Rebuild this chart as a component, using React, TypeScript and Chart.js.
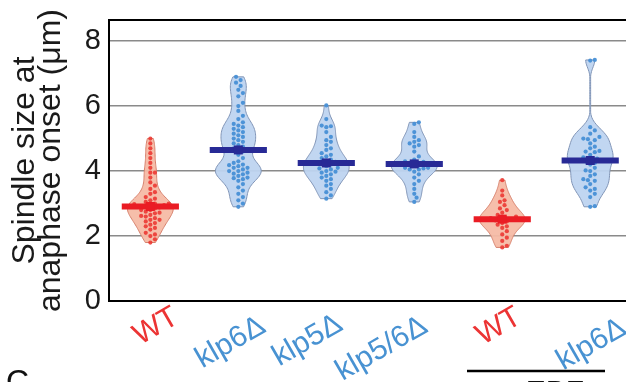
import React, { useEffect, useRef } from 'react';
import { Chart, registerables } from 'chart.js';

Chart.register(...registerables);

// Strain labels along the x axis (last two are the EBF-treated pair)
const groupLabels = ['WT', 'klp6Δ', 'klp5Δ', 'klp5/6Δ', 'WT', 'klp6Δ'];
const groupIsWT = [true, false, false, false, true, false];
const yTickValues = [0, 2, 4, 6, 8];

// Spindle length at anaphase onset (µm), one value per cell
const wtValues = [
  5.0, 4.85, 4.7, 4.55, 4.4, 4.25, 4.1, 3.95, 3.95, 3.8, 3.65, 3.55, 3.45, 3.35, 3.3, 3.2, 3.15,
  3.1, 3.05, 3.0, 3.0, 2.98, 2.95, 2.95, 2.92, 2.9, 2.88, 2.85, 2.8, 2.8, 2.75, 2.72, 2.7, 2.65,
  2.62, 2.6, 2.55, 2.5, 2.5, 2.45, 2.4, 2.35, 2.3, 2.25, 2.2, 2.1, 2.05, 2.0, 1.9, 1.8,
];
const klp6Values = [
  6.9, 6.8, 6.72, 6.62, 6.5, 6.4, 6.3, 6.1, 6.0, 5.85, 5.7, 5.6, 5.5, 5.45, 5.4, 5.35, 5.3, 5.25,
  5.2, 5.15, 5.1, 5.05, 5.0, 4.95, 4.9, 4.85, 4.8, 4.75, 4.7, 4.65, 4.6, 4.5, 4.4, 4.3, 4.25, 4.2,
  4.18, 4.15, 4.1, 4.1, 4.05, 4.0, 4.0, 3.95, 3.92, 3.9, 3.85, 3.8, 3.78, 3.75, 3.7, 3.6, 3.5, 3.4,
  3.3, 3.2, 3.1, 3.0, 2.9,
];
const klp5Values = [
  6.02, 5.6, 5.4, 5.38, 5.35, 5.2, 5.05, 4.95, 4.9, 4.8, 4.7, 4.65, 4.55, 4.5, 4.45, 4.4, 4.35,
  4.3, 4.28, 4.25, 4.2, 4.15, 4.1, 4.08, 4.05, 4.0, 3.98, 3.95, 3.9, 3.85, 3.8, 3.75, 3.7, 3.6,
  3.55, 3.45, 3.35, 3.25, 3.15,
];
const klp56Values = [
  5.5, 5.45, 5.2, 5.05, 4.95, 4.9, 4.85, 4.8, 4.75, 4.6, 4.45, 4.35, 4.3, 4.28, 4.25, 4.22, 4.2,
  4.1, 4.1, 4.08, 4.05, 4.05, 3.98, 3.9, 3.8, 3.7, 3.6, 3.45, 3.3, 3.18, 3.05,
];
const wtEbfValues = [
  3.72, 3.4, 3.25, 3.1, 3.05, 2.95, 2.85, 2.8, 2.72, 2.65, 2.6, 2.58, 2.55, 2.52, 2.5, 2.48, 2.45,
  2.4, 2.35, 2.3, 2.25, 2.15, 2.05, 1.95, 1.85, 1.7, 1.65,
];
const klp6EbfValues = [
  7.42, 7.4, 5.35, 5.25, 5.15, 5.05, 5.0, 4.98, 4.95, 4.85, 4.75, 4.7, 4.62, 4.6, 4.58, 4.5, 4.42,
  4.38, 4.35, 4.3, 4.25, 4.2, 4.1, 4.02, 4.0, 3.9, 3.85, 3.75, 3.72, 3.7, 3.6, 3.5, 3.45, 3.4, 3.3,
  3.2, 2.92, 2.9,
];

const groups = [wtValues, klp6Values, klp5Values, klp56Values, wtEbfValues, klp6EbfValues];

const RED = { dot: 'rgba(236,58,52,0.9)', fill: 'rgba(246,186,165,0.95)', edge: 'rgb(214,128,108)', bar: 'rgb(234,28,36)', label: 'rgb(236,52,52)' };
const BLUE = { dot: 'rgba(72,144,214,0.95)', fill: 'rgba(190,212,240,0.95)', edge: 'rgb(128,148,182)', bar: 'rgb(40,42,150)', label: 'rgb(72,146,210)' };

const X_MIN = -0.47;
const X_MAX = 5.6;
const Y_MAX = 8.65;
const PX_PER_X = 88;
const PX_PER_Y = 32.5;
const VIOLIN_HALF = 0.26;
const BAR_HALF = 0.325;
const FONT = '"Liberation Sans", Arial, Helvetica, sans-serif';

// Hand-set placement of the slanted strain names (right end of each baseline,
// measured from the tick and from the x axis line)
const LABEL_ANGLE = (-30 * Math.PI) / 180;
const LABEL_DX = [30, 29, 18, 15, 21, 38];
const LABEL_DY = [21, 30, 28, 30, 21, 32];

function median(values: number[]): number {
  const s = [...values].sort((a, b) => a - b);
  const m = Math.floor(s.length / 2);
  return s.length % 2 ? s[m] : (s[m - 1] + s[m]) / 2;
}

// Beeswarm layout: each dot goes to the free horizontal slot nearest the centre line
function swarmOffsets(values: number[]): number[] {
  const gap = 4.4;
  const step = 2.3;
  const order = values.map((_, i) => i).sort((a, b) => values[a] - values[b]);
  const placed: { x: number; y: number }[] = [];
  const out = new Array(values.length).fill(0);
  for (const i of order) {
    const y = values[i] * PX_PER_Y;
    for (let k = 0; k < 60; k++) {
      const cand = k === 0 ? 0 : (k % 2 === 1 ? 1 : -1) * Math.ceil(k / 2) * step;
      if (placed.every((p) => (p.x - cand) ** 2 + (p.y - y) ** 2 >= gap * gap)) {
        out[i] = cand / PX_PER_X;
        placed.push({ x: cand, y });
        break;
      }
    }
  }
  return out;
}

// Gaussian kernel density, truncated at the data range, normalised to 1 at its peak
function violinProfile(values: number[], bw = 0.22, n = 90) {
  const lo = Math.min(...values);
  const hi = Math.max(...values);
  const pts: { v: number; w: number }[] = [];
  for (let i = 0; i < n; i++) {
    const v = lo + ((hi - lo) * i) / (n - 1);
    let d = 0;
    for (const x of values) d += Math.exp(-0.5 * ((v - x) / bw) ** 2);
    pts.push({ v, w: d });
  }
  const max = Math.max(...pts.map((p) => p.w));
  return pts.map((p) => ({ v: p.v, w: Math.max(p.w / max, 0.018) }));
}

const profiles = groups.map((g) => violinProfile(g));
const medians = groups.map(median);

const violinPlugin = {
  id: 'violins',
  beforeDatasetsDraw(chart: any) {
    const { ctx, scales } = chart;
    const xs = scales.x;
    const ys = scales.y;
    profiles.forEach((prof, g) => {
      const pal = groupIsWT[g] ? RED : BLUE;
      ctx.save();
      ctx.beginPath();
      prof.forEach((p, i) => {
        const px = xs.getPixelForValue(g + p.w * VIOLIN_HALF);
        const py = ys.getPixelForValue(p.v);
        if (i === 0) ctx.moveTo(px, py);
        else ctx.lineTo(px, py);
      });
      for (let i = prof.length - 1; i >= 0; i--) {
        const p = prof[i];
        ctx.lineTo(xs.getPixelForValue(g - p.w * VIOLIN_HALF), ys.getPixelForValue(p.v));
      }
      ctx.closePath();
      ctx.fillStyle = pal.fill;
      ctx.fill();
      ctx.lineWidth = 1;
      ctx.strokeStyle = pal.edge;
      ctx.stroke();
      ctx.restore();
    });
  },
  afterDatasetsDraw(chart: any) {
    const { ctx, scales } = chart;
    const xs = scales.x;
    const ys = scales.y;
    medians.forEach((m, g) => {
      const pal = groupIsWT[g] ? RED : BLUE;
      const py = ys.getPixelForValue(m);
      const cx = xs.getPixelForValue(g);
      ctx.save();
      ctx.strokeStyle = pal.bar;
      ctx.lineWidth = 6;
      ctx.beginPath();
      ctx.moveTo(xs.getPixelForValue(g - BAR_HALF), py);
      ctx.lineTo(xs.getPixelForValue(g + BAR_HALF), py);
      ctx.stroke();
      ctx.fillStyle = pal.bar;
      ctx.fillRect(cx - 4.5, py - 4.5, 9, 9);
      ctx.restore();
    });
  },
  afterDraw(chart: any) {
    const { ctx, chartArea, scales } = chart;
    const xs = scales.x;
    ctx.save();
    // closing line along the top of the plot frame
    ctx.strokeStyle = '#000';
    ctx.lineWidth = 2;
    ctx.beginPath();
    ctx.moveTo(chartArea.left - 1, chartArea.top);
    ctx.lineTo(chartArea.right, chartArea.top);
    ctx.stroke();

    // slanted strain names under each violin
    ctx.font = `30px ${FONT}`;
    ctx.textAlign = 'right';
    ctx.textBaseline = 'alphabetic';
    groupLabels.forEach((lab, i) => {
      ctx.save();
      ctx.translate(xs.getPixelForValue(i) + LABEL_DX[i], chartArea.bottom + LABEL_DY[i]);
      ctx.rotate(LABEL_ANGLE);
      ctx.fillStyle = groupIsWT[i] ? RED.label : BLUE.label;
      ctx.fillText(lab, 0, 0);
      ctx.restore();
    });

    // bracket under the EBF-treated strains
    ctx.strokeStyle = '#000';
    ctx.lineWidth = 2.5;
    ctx.beginPath();
    ctx.moveTo(467, 371);
    ctx.lineTo(605, 371);
    ctx.stroke();
    ctx.fillStyle = '#111';
    ctx.font = `30px ${FONT}`;
    ctx.textAlign = 'center';
    ctx.fillText('EBF', 555, 401);
    ctx.font = `32px ${FONT}`;
    ctx.textAlign = 'left';
    ctx.fillText('C', 6, 392);
    ctx.restore();
  },
};

export default function App() {
  const canvasRef = useRef<HTMLCanvasElement | null>(null);

  useEffect(() => {
    const canvas = canvasRef.current;
    if (!canvas) return;

    const datasets = groups.map((vals, g) => {
      const offs = swarmOffsets(vals);
      const pal = groupIsWT[g] ? RED : BLUE;
      return {
        label: groupLabels[g],
        data: vals.map((v, i) => ({ x: g + offs[i], y: v })),
        pointRadius: 2.1,
        pointBackgroundColor: pal.dot,
        pointBorderWidth: 0,
        showLine: false,
      };
    });

    const chart = new Chart(canvas, {
      type: 'scatter',
      data: { datasets },
      plugins: [violinPlugin],
      options: {
        animation: false,
        responsive: false,
        devicePixelRatio: 1,
        layout: { padding: { top: 20, right: 7, left: 0, bottom: 0 } },
        plugins: { legend: { display: false }, tooltip: { enabled: false } },
        scales: {
          x: {
            type: 'linear',
            min: X_MIN,
            max: X_MAX,
            afterBuildTicks: (scale: any) => {
              scale.ticks = groupLabels.map((_, i) => ({ value: i }));
            },
            afterFit: (scale: any) => {
              scale.height = 81;
              scale.paddingLeft = 0;
              scale.paddingRight = 0;
            },
            grid: { display: false, drawTicks: false },
            border: { display: true, color: '#000', width: 2 },
            ticks: { display: false },
          },
          y: {
            type: 'linear',
            min: 0,
            max: Y_MAX,
            afterBuildTicks: (scale: any) => {
              scale.ticks = yTickValues.map((v) => ({ value: v }));
            },
            afterFit: (scale: any) => {
              scale.width = 109;
              scale.paddingTop = 0;
              scale.paddingBottom = 0;
            },
            grid: {
              drawTicks: false,
              color: (c: any) => (c.tick && c.tick.value === 0 ? 'rgba(0,0,0,0)' : '#8a8a8a'),
              lineWidth: 1.5,
            },
            border: { display: true, color: '#000', width: 2 },
            ticks: {
              padding: 8,
              font: { family: FONT, size: 29 },
              color: '#1a1a1a',
              callback: (v: any) => String(v),
            },
            title: {
              display: true,
              text: ['Spindle size at', 'anaphase onset (μm)'],
              font: { family: FONT, size: 32, lineHeight: 0.82 },
              color: '#1a1a1a',
              padding: { top: 12, bottom: 0 },
            },
          },
        },
      },
    });

    return () => chart.destroy();
  }, []);

  return (
    <div
      style={{
        position: 'fixed',
        left: 0,
        top: 0,
        width: 626,
        height: 382,
        overflow: 'hidden',
        background: '#fff',
      }}
    >
      <canvas ref={canvasRef} width={650} height={382} style={{ display: 'block', width: 650, height: 382 }} />
    </div>
  );
}
